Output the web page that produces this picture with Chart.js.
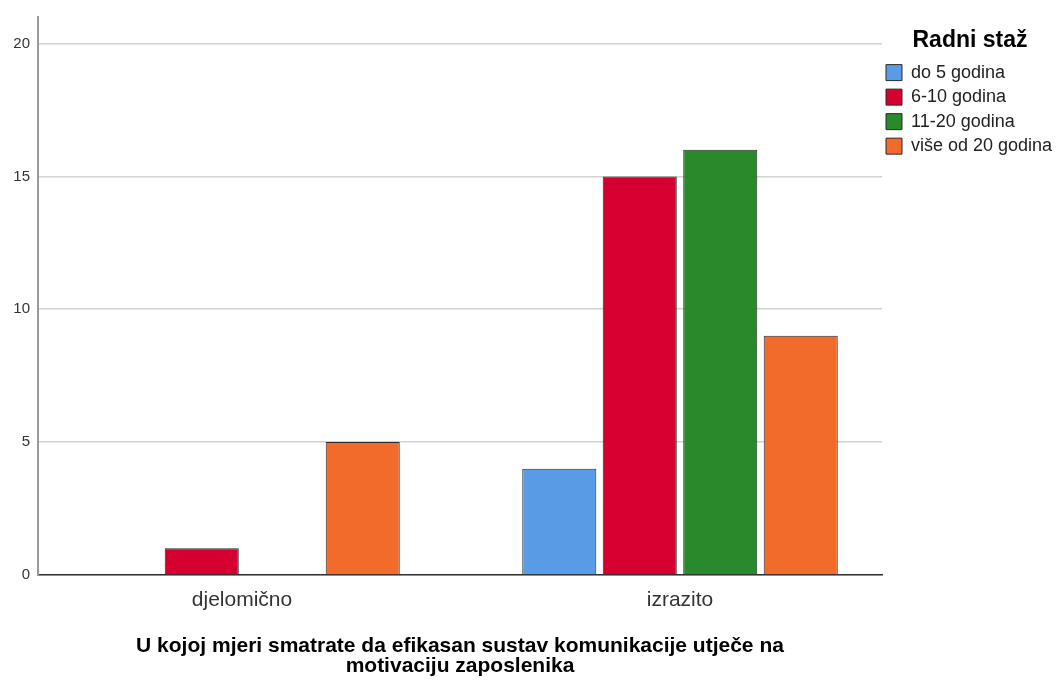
<!DOCTYPE html>
<html>
<head>
<meta charset="utf-8">
<title>Radni staž</title>
<script src="https://cdn.jsdelivr.net/npm/chart.js"></script>
<style>
  html, body { margin: 0; padding: 0; background: #fff; }
  #wrap { width: 1058px; height: 680px; }
</style>
</head>
<body>
<div id="wrap"><canvas id="stazChart" width="1058" height="680"></canvas></div>
<script>
// answer categories on the x axis
const categories = ['djelomično', 'izrazito'];

// counts per group (Radni staž)
const do5 = [0, 4];
const od6do10 = [1, 15];
const od11do20 = [0, 16];
const vise20 = [5, 9];

const yTicks = [0, 5, 10, 15, 20];

const FONT = 'Arial, "Liberation Sans", sans-serif';

// SPSS leaves a little more room left of the first group than the axis shows,
// stretch the category pixel range a bit so groups sit where they do there
const shiftCategories = {
    id: 'shiftCategories',
    afterLayout(chart) {
        const x = chart.scales.x;
        x._startPixel = x.left - 15;
        x._length = (x.right + 17) - x._startPixel;
    }
};

document.addEventListener('DOMContentLoaded', function () {
    const ctx = document.getElementById('stazChart');
    new Chart(ctx, {
        type: 'bar',
        data: {
            labels: categories,
            datasets: [
                { label: 'do 5 godina', data: do5, backgroundColor: '#5a9be6' },
                { label: '6-10 godina', data: od6do10, backgroundColor: '#d5002f' },
                { label: '11-20 godina', data: od11do20, backgroundColor: '#288a2b' },
                { label: 'više od 20 godina', data: vise20, backgroundColor: '#f26b2b' }
            ]
        },
        options: {
            responsive: false,
            animation: false,
            layout: {
                padding: { top: 15, right: 0, bottom: 0, left: 0 }
            },
            datasets: {
                bar: {
                    borderColor: '#2b2b2b',
                    borderWidth: 1,
                    categoryPercentage: 0.735,
                    barPercentage: 0.92
                }
            },
            plugins: {
                tooltip: { enabled: false },
                legend: {
                    position: 'right',
                    align: 'start',
                    maxWidth: 176,
                    title: {
                        display: true,
                        text: 'Radni staž',
                        color: '#000',
                        font: { family: FONT, size: 23, weight: 'bold' },
                        padding: { top: 14, bottom: 3 }
                    },
                    labels: {
                        color: '#222',
                        boxWidth: 16,
                        boxHeight: 16,
                        padding: 4,
                        font: { family: FONT, size: 18, lineHeight: 1.14 },
                        // single-line arrays so the row height follows the font line height
                        generateLabels: function (chart) {
                            const items = Chart.defaults.plugins.legend.labels.generateLabels(chart);
                            return items.map(function (it) {
                                it.text = [it.text];
                                it.lineWidth = 1;
                                it.strokeStyle = '#2b2b2b';
                                return it;
                            });
                        }
                    }
                }
            },
            scales: {
                x: {
                    grid: { display: false, drawTicks: false },
                    border: { color: '#333', width: 1.5 },
                    ticks: {
                        color: '#333',
                        padding: 13,
                        font: { family: FONT, size: 21 }
                    },
                    title: {
                        display: true,
                        text: ['U kojoj mjeri smatrate da efikasan sustav komunikacije utječe na', 'motivaciju zaposlenika'],
                        color: '#000',
                        font: { family: FONT, size: 21, weight: 'bold', lineHeight: 0.95 },
                        padding: { top: 10, bottom: 4 }
                    }
                },
                y: {
                    min: 0,
                    max: 21,
                    afterBuildTicks: function (scale) {
                        scale.ticks = yTicks.map(v => ({ value: v }));
                    },
                    afterFit: function (scale) {
                        scale.width = 38;
                    },
                    grid: {
                        color: '#d2d2d2',
                        lineWidth: 1.5,
                        drawTicks: false
                    },
                    border: { color: '#9a9a9a', width: 2 },
                    ticks: {
                        color: '#333',
                        padding: 8,
                        font: { family: FONT, size: 15 }
                    }
                }
            }
        },
        plugins: [shiftCategories]
    });
});
</script>
</body>
</html>
